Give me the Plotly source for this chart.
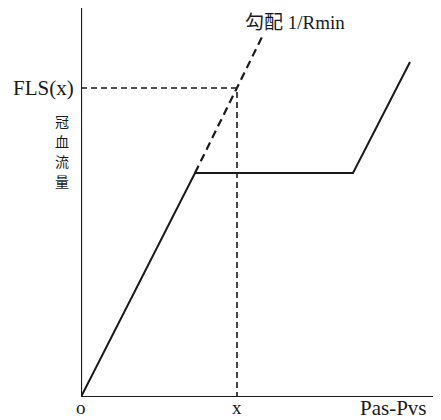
import plotly.graph_objects as go

# Data (arbitrary units)
solid_x = [0, 114, 272, 329]
solid_y = [0, 224, 224, 335]
dashed_x = [114, 182]
dashed_y = [224, 362]
x_point = 156
fls_value = 309
axis_x_max = 360
axis_y_max = 392
X_RANGE = [0, 360]
Y_RANGE = [0, 389]
y_label_chars = ["冠", "血", "流", "量"]

SERIF = "Liberation Serif, Noto Sans CJK JP, serif"
CJK = "Noto Sans CJK JP"
INK = "#1a1a1a"

fig = go.Figure()

fig.add_trace(go.Scatter(x=[0, 0, axis_x_max], y=[axis_y_max, 0, 0], mode="lines",
                         line=dict(color=INK, width=2.2), hoverinfo="skip"))
fig.add_trace(go.Scatter(x=solid_x, y=solid_y, mode="lines",
                         line=dict(color=INK, width=2), hoverinfo="skip"))
fig.add_trace(go.Scatter(x=dashed_x, y=dashed_y, mode="lines",
                         line=dict(color=INK, width=2.2, dash="8px,5px"), hoverinfo="skip"))
fig.add_trace(go.Scatter(x=[0, x_point, x_point], y=[fls_value, fls_value, 0], mode="lines",
                         line=dict(color=INK, width=1.6, dash="6px,4px"), hoverinfo="skip"))


def px(dx):
    return dx / (X_RANGE[1] - X_RANGE[0])


def py(dy):
    return dy / (Y_RANGE[1] - Y_RANGE[0])


ann = [
    dict(x=px(-5), y=py(fls_value), text="FLS(x)", xanchor="right", yanchor="middle",
         font=dict(family=SERIF, size=21, color=INK)),
    dict(x=px(162), y=py(375), text="勾配 1/Rmin", xanchor="left", yanchor="middle",
         font=dict(family=SERIF, size=19, color=INK)),
    dict(x=px(0), y=py(-10), text="o", xanchor="center", yanchor="middle",
         font=dict(family=SERIF, size=19, color=INK)),
    dict(x=px(x_point), y=py(-10), text="x", xanchor="center", yanchor="middle",
         font=dict(family=SERIF, size=19, color=INK)),
    dict(x=px(312), y=py(-11), text="Pas-Pvs", xanchor="center", yanchor="middle",
         font=dict(family=SERIF, size=21, color=INK)),
]
for i, ch in enumerate(y_label_chars):
    ann.append(dict(x=px(-19), y=py(276 - 20 * i), text=ch, xanchor="center", yanchor="middle",
                    font=dict(family=CJK, size=14, color=INK), borderpad=0))
for a in ann:
    a.update(xref="paper", yref="paper", showarrow=False)

fig.update_layout(
    width=433, height=412,
    margin=dict(l=73, r=0, t=0, b=23),
    paper_bgcolor="white", plot_bgcolor="white",
    showlegend=False,
    annotations=ann,
    xaxis=dict(range=X_RANGE, visible=False, fixedrange=True),
    yaxis=dict(range=Y_RANGE, visible=False, fixedrange=True),
)
for tr in fig.data:
    tr.update(cliponaxis=False)

fig.write_html("out.html")
